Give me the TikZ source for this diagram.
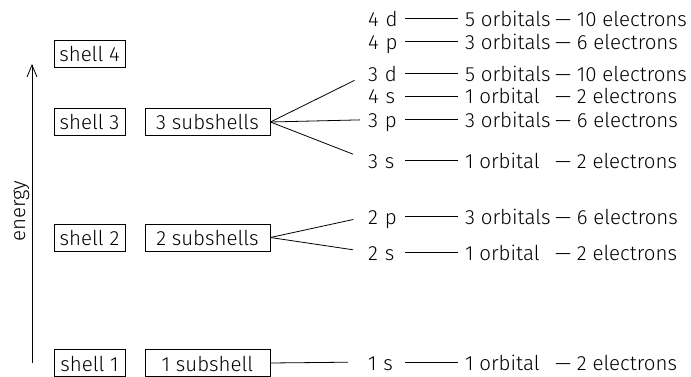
\documentclass[tikz,border=0pt]{standalone}
\usepackage{fontspec}
\setmainfont{Fira Sans Light}
\usetikzlibrary{arrows.meta}
\begin{document}
\begin{tikzpicture}[x=1pt,y=-1pt,
  every node/.style={font=\fontsize{20.5pt}{24pt}\selectfont},
  box/.style={draw, line width=0.8pt, inner sep=0pt, text height=16pt, text depth=0pt, minimum height=27pt},
  shellbox/.style={box, minimum width=71pt},
  subbox/.style={box, minimum width=125pt},
  lvl/.style={anchor=west, inner sep=0pt, text height=16pt, text depth=0pt, text width=30pt, align=left},
  txt/.style={anchor=west, inner sep=0pt, text height=16pt, text depth=0pt},
  conn/.style={line width=0.8pt}]
\useasboundingbox (0,0) rectangle (691,377);
% energy axis
\coordinate (ebot) at (32,363);
\coordinate (etop) at (32,64);
\draw[conn, -{Straight Barb[length=12pt,width=10pt]}] (ebot) -- (etop);
\node[rotate=90, anchor=base, inner sep=0pt] (energy) at (25,211) {energy};
% shells
\node[shellbox] (s4) at (89.5,53.5) {shell 4};
\node[shellbox] (s3) at (89.5,122) {shell 3};
\node[shellbox] (s2) at (89.5,237.5) {shell 2};
\node[shellbox] (s1) at (89.5,363) {shell 1};
\node[subbox] (u3) at (207.5,122) {3 subshells};
\node[subbox] (u2) at (207.5,237.5) {2 subshells};
\node[subbox] (u1) at (207.5,363) {1 subshell};
% levels
\foreach \n/\lab/\orb/\el/\y in {
  4d/4 d/5 orbitals/10 electrons/18.7,
  4p/4 p/3 orbitals/6 electrons/41.3,
  3d/3 d/5 orbitals/10 electrons/73.7,
  4s/4 s/1 orbital/2 electrons/96,
  3p/3 p/3 orbitals/6 electrons/119.7,
  3s/3 s/1 orbital/2 electrons/160,
  2p/2 p/3 orbitals/6 electrons/216.3,
  2s/2 s/1 orbital/2 electrons/252,
  1s/1 s/1 orbital/2 electrons/362}{
  \node[lvl] (l\n) at (368,\y) {\lab};
  \node[txt] (o\n) at (465,\y) {\orb};
  \node[txt] (e\n) at (555,\y) {— \el};
  \draw[conn, shorten <=7pt, shorten >=7pt] (l\n.east) -- (o\n.west);
}
% fans
\draw[conn, shorten >=15pt] (u3.east) -- (l3d.west);
\draw[conn, shorten >=8pt] (u3.east) -- (l3p.west);
\draw[conn, shorten >=16pt] (u3.east) -- (l3s.west);
\draw[conn, shorten >=15pt] (u2.east) -- (l2p.west);
\draw[conn, shorten >=15pt] (u2.east) -- (l2s.west);
\draw[conn, shorten >=20pt] (u1.east) -- (l1s.west);
\end{tikzpicture}
\end{document}
